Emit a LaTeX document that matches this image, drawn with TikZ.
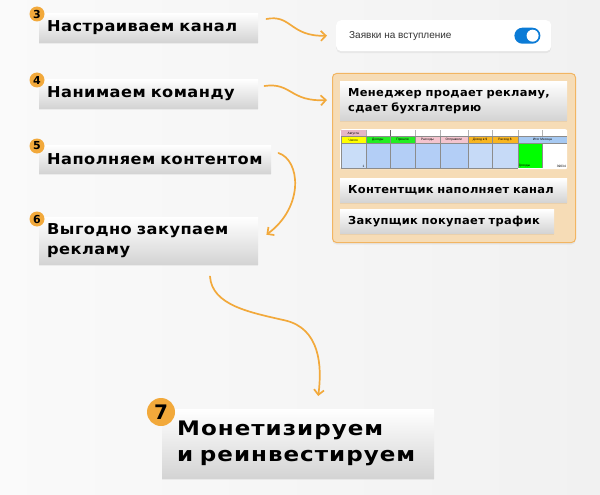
\documentclass[tikz,border=0pt]{standalone}
\usepackage{fontspec}
\setmainfont{DejaVu Sans}
\newfontfamily\tfa[LetterSpace=3,FakeStretch=1.08]{DejaVu Sans}
\newfontfamily\tfb[LetterSpace=3,FakeStretch=1.04]{DejaVu Sans}
\newfontfamily\tfc[LetterSpace=5,FakeStretch=1.15]{DejaVu Sans}
\newfontfamily\uif{Liberation Sans}
\usetikzlibrary{shadows,arrows.meta,calc}
\definecolor{org}{HTML}{F2A93B}
\definecolor{panelfill}{HTML}{F6DCB6}
\definecolor{paneldraw}{HTML}{F2B562}
\definecolor{togblue}{HTML}{0B7BD6}
\definecolor{bggray}{HTML}{F1F1F1}
\definecolor{tyellow}{HTML}{FFFF00}
\definecolor{tgreen}{HTML}{22EE22}
\definecolor{tpink}{HTML}{F4C4CE}
\definecolor{tpinkd}{HTML}{E6B6C6}
\definecolor{torange}{HTML}{F8B520}
\definecolor{tlblue}{HTML}{A6C9F2}
\definecolor{tb1}{HTML}{C9DDF8}
\definecolor{tb2}{HTML}{B3CEF6}
\definecolor{tb3}{HTML}{C6DAF7}
\definecolor{tbright}{HTML}{00FF00}
\tikzset{
  x=1pt, y=-1pt,
  softshadow/.style={drop shadow={opacity=0.05, shadow xshift=0pt, shadow yshift=-2pt, fill=black}},
  stepbox/.style={rectangle, anchor=north west, top color=white, bottom color=black!17,
    inner xsep=8pt, inner ysep=0pt, align=left, softshadow},
  bigtxt/.style={font=\tfa\bfseries\fontsize{15}{20}\selectfont},
  midtxt/.style={font=\tfb\bfseries\fontsize{11}{15}\selectfont},
  hugetxt/.style={font=\tfc\bfseries\fontsize{20}{26}\selectfont},
  badge/.style={circle, fill=org, inner sep=0pt, minimum size=15pt, font=\bfseries\fontsize{11}{11}\selectfont},
  arr/.style={draw=org, line width=1.7pt, line cap=round, -{Straight Barb[length=5pt,width=10pt,line width=1.7pt]}},
  cell/.style={draw=black!45, line width=0.3pt},
  ctext/.style={font=\uif\fontsize{3.2}{3.2}\selectfont, inner sep=0.5pt}
}
\begin{document}
\begin{tikzpicture}
\useasboundingbox (0,0) rectangle (600,495);
\shade[left color=white!98!black, right color=bggray] (0,0) rectangle (600,495);

% left step boxes
\node[stepbox, bigtxt, minimum width=219pt, minimum height=29pt, text width=203pt] (b3) at (39,13) {Настраиваем канал};
\node[stepbox, bigtxt, minimum width=219pt, minimum height=29pt, text width=203pt] (b4) at (39,79) {Нанимаем команду};
\node[stepbox, bigtxt, minimum width=232pt, minimum height=28pt, text width=216pt] (b5) at (39,145) {Наполняем контентом};
\node[stepbox, bigtxt, minimum width=219pt, minimum height=47pt, text width=203pt] (b6) at (39,217) {Выгодно закупаем\\рекламу};
\node[stepbox, hugetxt, minimum width=272pt, minimum height=69pt, text width=242pt, inner xsep=15pt] (b7) at (162,409) {Монетизируем\\и реинвестируем};

\node[badge] (n3) at (37,14) {3};
\node[badge] (n4) at (37,80) {4};
\node[badge] (n5) at (37,146) {5};
\node[badge] (n6) at (37,219) {6};
\node[badge, minimum size=28pt, font=\bfseries\fontsize{20}{20}\selectfont] (n7) at (161,412) {7};

% toggle card
\node[rectangle, anchor=north west, fill=white, rounded corners=5pt, minimum width=215pt, minimum height=31pt,
  softshadow] (tg) at (336,20) {};
\node[anchor=west, inner sep=0pt, font=\uif\fontsize{10}{10}\selectfont, text=black!80] (tgt) at ($(tg.west)+(13,0)$) {Заявки на вступление};
\node[rectangle, fill=togblue, rounded corners=8pt, minimum width=26pt, minimum height=16pt, inner sep=0pt] (sw) at ($(tg.east)+(-24,0)$) {};
\node[circle, fill=white, minimum size=12pt, inner sep=0pt] (knob) at ($(sw.east)+(-8,0)$) {};

% team panel
\node[rectangle, anchor=north west, fill=panelfill, draw=paneldraw, line width=1pt, rounded corners=4pt,
  minimum width=243pt, minimum height=169pt, softshadow] (pn) at (332,73) {};
\node[stepbox, midtxt, minimum width=227pt, minimum height=39pt, text width=211pt] (mg) at (340,81) {Менеджер продает рекламу,\\сдает бухгалтерию};
\node[stepbox, midtxt, minimum width=227pt, minimum height=24pt, text width=211pt] (kt) at (340,178) {Контентщик наполняет канал};
\node[stepbox, midtxt, minimum width=214pt, minimum height=24pt, text width=198pt] (zk) at (340,209) {Закупщик покупает трафик};

% spreadsheet picture
\node[rectangle, anchor=north west, fill=white, rounded corners=2pt, minimum width=227pt, minimum height=40pt, inner sep=0pt] (tb) at (340,129) {};
\begin{scope}
\def\ya{130}\def\yb{136.5}\def\yc{143.5}\def\yd{168}
% row 1
\fill[tpinkd] (341,\ya) rectangle (365.7,\yb);
\node[ctext] at (353.3,133.3) {Августа};
\foreach \x in {365.7,390,415,440,467.7,492.3,517.7,542.3}{\draw[black!30, line width=0.3pt] (\x,\ya) -- (\x,\yb);}
\draw[black!60, line width=0.4pt] (390,\ya) -- (390,\yb);
% row 2
\fill[tyellow] (341,\yb) rectangle (365.7,\yc);
\fill[tgreen] (365.7,\yb) rectangle (415,\yc);
\fill[tpink] (415,\yb) rectangle (467.7,\yc);
\fill[torange] (467.7,\yb) rectangle (517.7,\yc);
\fill[tlblue] (517.7,\yb) rectangle (567,\yc);
\node[ctext] at (353.3,140) {Число};
\node[ctext] at (377.8,140) {Доходы};
\node[ctext] at (402.5,140) {Пришли};
\node[ctext] at (427.5,140) {Расходы};
\node[ctext] at (453.8,140) {Отправили};
\node[ctext] at (480,140) {Доход в \$};
\node[ctext] at (505,140) {Расход \$};
\node[ctext] at (542.3,140) {Итог Месяца};
\foreach \x in {341,365.7,390,415,440,467.7,492.3,517.7}{\draw[cell] (\x,\yb) -- (\x,\yc);}
\draw[cell] (341,\yb) -- (567,\yb);
% row 3
\fill[tb1] (341,\yc) rectangle (365.7,\yd);
\fill[tb2] (365.7,\yc) rectangle (467.7,\yd);
\fill[tb3] (467.7,\yc) rectangle (517.7,\yd);
\fill[tbright] (517.7,\yc) rectangle (542.3,\yd);
\node[ctext, anchor=south east] at (365.2,\yd) {1};
\node[ctext, anchor=south west] at (518,\yd) {Доходы};
\node[ctext, anchor=south east] at (566.5,\yd) {39034};
\foreach \x in {341,365.7,390,415,440,467.7,492.3,517.7,542.3}{\draw[cell] (\x,\yc) -- (\x,\yd);}
\draw[cell] (341,\yc) -- (567,\yc);
\draw[cell] (341,\yd) -- (517.7,\yd);
\end{scope}

% connectors
\draw[arr] ($(b3.north east)+(8,6)$) .. controls +(25,-5) and +(-37,1) .. ($(tg.west)+(-9,0)$);
\draw[arr] ($(b4.north east)+(6,7)$) .. controls +(27,-4) and +(-37,2) .. ($(pn.north west)+(-5,27)$);
\draw[arr] ($(b5.north east)+(7,8)$) .. controls +(22,7) and +(38,-28) .. ($(b6.east)+(8,-6)$);
\coordinate (mid67) at ($(b6.south west)+(246,56)$);
\draw[arr] ($(b6.south west)+(171,12)$) .. controls +(2,29) and +(-35,-8) .. (mid67) .. controls +(35,8) and +(4,-30) .. ($(b7.north)+(20,-13)$);
\end{tikzpicture}
\end{document}
